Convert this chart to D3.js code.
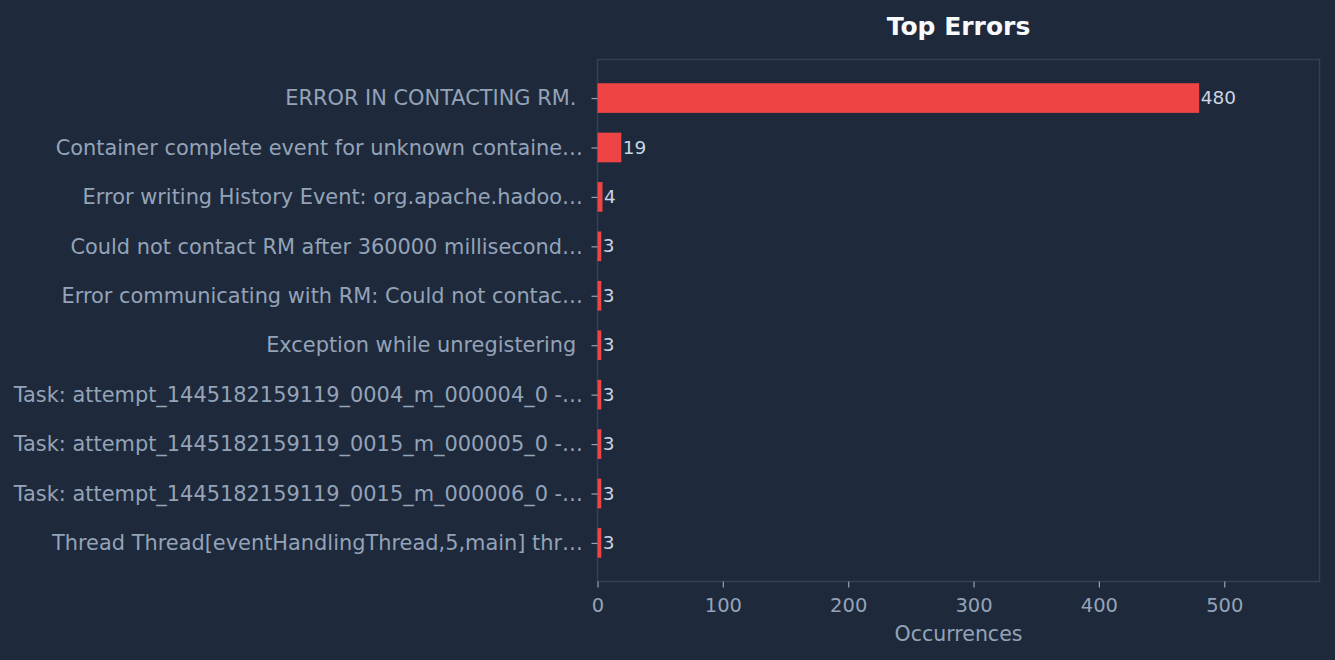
<!doctype html>
<html>
<head>
<meta charset="utf-8">
<style>
  body { margin: 0; background: #1e293b; }
  svg { display: block; font-family: 'DejaVu Sans', sans-serif; }
  .tick text { fill: #94a3b8; font-family: 'DejaVu Sans', sans-serif; }
  .y .tick text { font-size: 20.9px; }
  .x .tick text { font-size: 19.5px; }
  .tick line { stroke: #94a3b8; stroke-width: 1.2; }
  .domain { stroke: none; }
  text.value { fill: #cbd5e1; font-size: 18.5px; }
  text.title { fill: #f8fafc; font-size: 25px; font-weight: bold; }
  text.label { fill: #94a3b8; font-size: 20.5px; }
</style>
<script src="https://d3js.org/d3.v7.min.js"></script>
</head>
<body>
<svg width="1335" height="660"></svg>
<script>
const errors = [
  'ERROR IN CONTACTING RM. ',
  'Container complete event for unknown containe\u2026',
  'Error writing History Event: org.apache.hadoo\u2026',
  'Could not contact RM after 360000 millisecond\u2026',
  'Error communicating with RM: Could not contac\u2026',
  'Exception while unregistering ',
  'Task: attempt_1445182159119_0004_m_000004_0 -\u2026',
  'Task: attempt_1445182159119_0015_m_000005_0 -\u2026',
  'Task: attempt_1445182159119_0015_m_000006_0 -\u2026',
  'Thread Thread[eventHandlingThread,5,main] thr\u2026'
]
const counts = [480, 19, 4, 3, 3, 3, 3, 3, 3, 3]
const xTicks = [0, 100, 200, 300, 400, 500]

const svg = d3.select('svg')
const pLeft = 597.5, pRight = 1319.5, pTop = 59.5, pBottom = 581.5

const x = d3.scaleLinear()
  .domain([0, d3.max(counts) * 1.2])
  .range([pLeft, pRight])

// matplotlib-style: bars of height 0.6 on integer positions, 5% margin
const y = d3.scaleLinear()
  .domain([-0.78, errors.length - 1 + 0.78])
  .range([pTop, pBottom])
const barH = y(0.6) - y(0)

svg.append('rect')
  .attr('x', pLeft).attr('y', pTop)
  .attr('width', pRight - pLeft).attr('height', pBottom - pTop)
  .attr('fill', 'none').attr('stroke', '#334155').attr('stroke-width', 1.5)

svg.selectAll('rect.bar')
  .data(counts)
  .enter().append('rect')
  .attr('class', 'bar')
  .attr('x', x(0))
  .attr('y', (d, i) => y(i) - barH / 2)
  .attr('width', d => x(d) - x(0))
  .attr('height', barH)
  .attr('fill', '#ef4444')

svg.selectAll('text.value')
  .data(counts)
  .enter().append('text')
  .attr('class', 'value')
  .attr('x', d => x(d) + 1.5)
  .attr('y', (d, i) => y(i))
  .attr('dy', '0.33em')
  .text(d => d)

const yAxis = svg.append('g')
  .attr('class', 'y')
  .attr('transform', `translate(${pLeft},0)`)
  .call(d3.axisLeft(y)
    .tickValues(d3.range(errors.length))
    .tickFormat(i => errors[i])
    .tickSize(6)
    .tickPadding(8.5))
yAxis.selectAll('text').style('white-space', 'pre')

svg.append('g')
  .attr('class', 'x')
  .attr('transform', `translate(0,${pBottom})`)
  .call(d3.axisBottom(x)
    .tickValues(xTicks)
    .tickSize(6)
    .tickPadding(11))

svg.append('text')
  .attr('class', 'title')
  .attr('x', (pLeft + pRight) / 2)
  .attr('y', 35)
  .attr('text-anchor', 'middle')
  .text('Top Errors')

svg.append('text')
  .attr('class', 'label')
  .attr('x', (pLeft + pRight) / 2)
  .attr('y', 641)
  .attr('text-anchor', 'middle')
  .text('Occurrences')
</script>
</body>
</html>
